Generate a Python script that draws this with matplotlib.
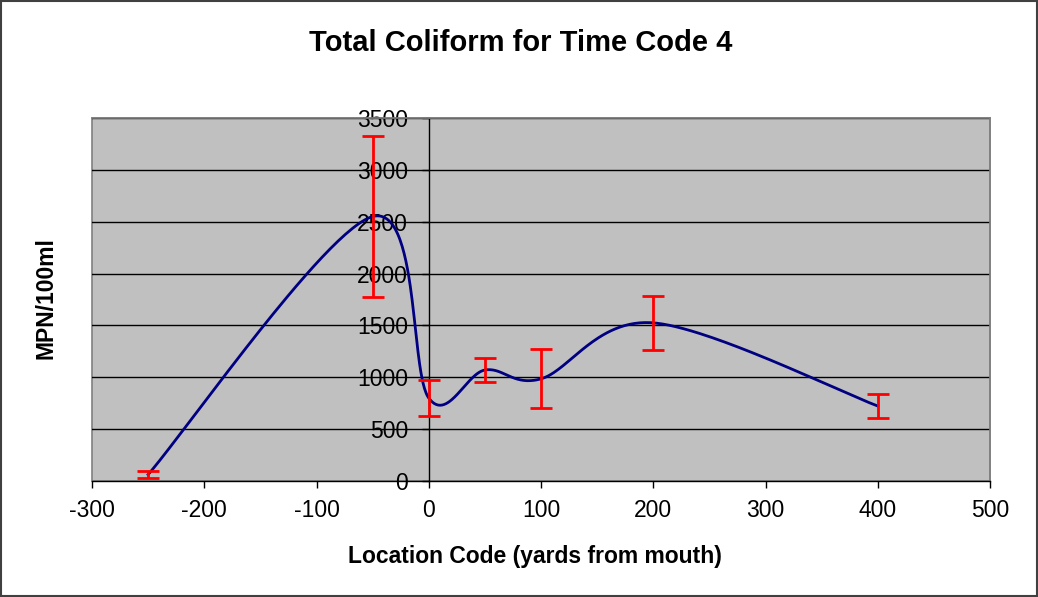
"""
Total Coliform for Time Code 4: MPN/100ml by location, with error bars.
Excel-style chart with a smoothed line (Catmull-Rom Bezier like Excel's "smoothed line").
"""
import numpy as np
import matplotlib
matplotlib.use("Agg")
import matplotlib.pyplot as plt
from matplotlib.patches import Rectangle

plt.rcParams["font.family"] = ["Liberation Sans", "DejaVu Sans"]
plt.rcParams["axes.unicode_minus"] = False

# data
location = [-250, -50, 0, 50, 100, 200, 400]
mpn = [62, 2550, 800, 1070, 985, 1525, 723]
mpn_err = [33, 780, 172, 113, 285, 258, 113]

x_ticks = [-300, -200, -100, 0, 100, 200, 300, 400, 500]
y_ticks = [0, 500, 1000, 1500, 2000, 2500, 3000, 3500]


def excel_smooth(xs, ys, n=60):
    """Cubic Bezier through the points, control points from neighbours (tension 1/6)."""
    p = np.column_stack([xs, ys]).astype(float)
    p = np.vstack([p[0], p, p[-1]])
    t = np.linspace(0, 1, n)[:, None]
    out = []
    for i in range(1, len(p) - 2):
        p0, p1 = p[i], p[i + 1]
        c1 = p0 + (p[i + 1] - p[i - 1]) / 6
        c2 = p1 - (p[i + 2] - p[i]) / 6
        seg = ((1 - t) ** 3) * p0 + 3 * ((1 - t) ** 2) * t * c1 + 3 * (1 - t) * t ** 2 * c2 + t ** 3 * p1
        out.append(seg)
    out = np.vstack(out)
    return out[:, 0], out[:, 1]


def main():
    fig = plt.figure(figsize=(10.38, 5.97), dpi=100)
    fig.patches.append(Rectangle((0.001, 0.002), 0.998, 0.996, transform=fig.transFigure,
                                 fill=False, edgecolor="#404040", linewidth=1.5))

    ax = fig.add_axes([92 / 1038, 116 / 597, 898 / 1038, 363 / 597])
    ax.set_facecolor("#C0C0C0")

    ax.set_xlim(-300, 500)
    ax.set_ylim(0, 3500)
    ax.set_xticks(x_ticks)
    ax.set_yticks(y_ticks)

    for y in y_ticks[1:]:
        ax.axhline(y, color="black", linewidth=1.0, zorder=1)

    sx, sy = excel_smooth(location, mpn)
    ax.plot(sx, sy, color="#000080", linewidth=2.0, zorder=3)
    ax.errorbar(location, mpn, yerr=mpn_err, fmt="none", ecolor="#FF0000",
                elinewidth=2.0, capsize=8, capthick=2.0, zorder=4)

    ax.spines["left"].set_position(("data", 0))
    ax.spines["left"].set_color("black")
    ax.spines["left"].set_linewidth(1.0)
    ax.spines["bottom"].set_color("black")
    ax.spines["bottom"].set_linewidth(1.0)
    for s in ["top", "right"]:
        ax.spines[s].set_color("#808080")
        ax.spines[s].set_linewidth(1.2)
    # gray border on the left edge of the plot area
    ax.add_patch(Rectangle((0, 0), 1, 1, transform=ax.transAxes, fill=False,
                           edgecolor="#808080", linewidth=1.2, zorder=0.5, clip_on=False))

    ax.tick_params(axis="both", direction="out", length=5, width=1, labelsize=16.5, colors="black")
    ax.tick_params(axis="y", pad=10)
    ax.tick_params(axis="x", pad=8)

    fig.text(0.502, 0.928, "Total Coliform for Time Code 4", ha="center", va="center",
             fontsize=21, fontweight="bold")
    fig.text(0.515, 0.068, "Location Code (yards from mouth)", ha="center", va="center",
             fontsize=16.5, fontweight="bold")
    fig.text(0.044, 0.50, "MPN/100ml", ha="center", va="center", rotation=90,
             fontsize=16.5, fontweight="bold")

    fig.savefig("out.png", dpi=100)
    plt.close(fig)


if __name__ == "__main__":
    main()
